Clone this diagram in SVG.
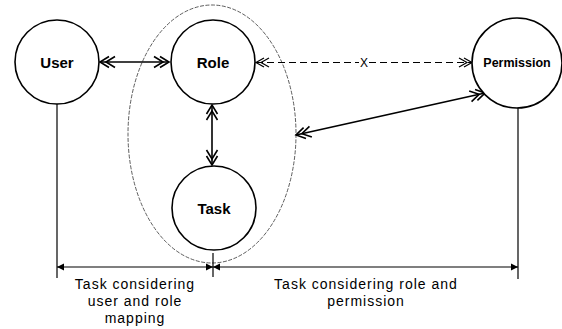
<svg xmlns="http://www.w3.org/2000/svg" width="562" height="329" viewBox="0 0 562 329">
<style>
.node{fill:#fff;stroke:#000;stroke-width:1.6}
.lbl{font-family:"Liberation Sans",Arial,sans-serif;font-weight:bold;text-anchor:middle;dominant-baseline:central;fill:#000}
.cap{font-family:"Liberation Sans",Arial,sans-serif;font-size:14px;letter-spacing:1px;text-anchor:middle;fill:#000}
.conn{fill:none;stroke:#000;stroke-width:1.6}
.dash{fill:none;stroke:#000;stroke-width:1.2;stroke-dasharray:7 4}
.thin{fill:none;stroke:#000;stroke-width:1.2}
</style>
<defs>
<marker id="dbl" markerUnits="userSpaceOnUse" markerWidth="20" markerHeight="16" viewBox="-18 -8 20 16" refX="0" refY="0" orient="auto-start-reverse">
<path d="M-9,-5.5 L0,0 L-9,5.5 M-15,-5.5 L-6,0 L-15,5.5" fill="none" stroke="#000" stroke-width="1.6"/>
</marker>
<marker id="dblt" markerUnits="userSpaceOnUse" markerWidth="20" markerHeight="16" viewBox="-18 -8 20 16" refX="0" refY="0" orient="auto-start-reverse">
<path d="M-8,-4.5 L0,0 L-8,4.5 M-13,-4.5 L-5,0 L-13,4.5" fill="none" stroke="#000" stroke-width="1.2"/>
</marker>
<marker id="tri" markerUnits="userSpaceOnUse" markerWidth="10" markerHeight="8" viewBox="-8 -4 9 8" refX="0" refY="0" orient="auto-start-reverse">
<path d="M-7,-3.5 L0,0 L-7,3.5 Z" fill="#000"/>
</marker>
</defs>
<ellipse id="grouping" cx="212" cy="134" rx="84" ry="129" fill="none" stroke="#333" stroke-width="0.8" stroke-dasharray="4 1.5"/>
<g id="connectors">
<line class="conn" x1="100" y1="62" x2="169" y2="62" marker-start="url(#dbl)" marker-end="url(#dbl)"/>
<line class="conn" x1="212" y1="105" x2="212" y2="165" marker-start="url(#dbl)" marker-end="url(#dbl)"/>
<line class="dash" x1="256" y1="62.5" x2="359" y2="62.5" marker-start="url(#dblt)"/>
<line class="dash" x1="369" y1="62.5" x2="472" y2="62.5" marker-end="url(#dblt)"/>
<text x="364" y="62.5" font-family="'Liberation Sans',Arial,sans-serif" font-size="12" text-anchor="middle" dominant-baseline="central">X</text>
<line class="conn" x1="296" y1="135" x2="485" y2="93" marker-start="url(#dbl)" marker-end="url(#dbl)"/>
<line class="thin" x1="57" y1="104" x2="57" y2="278"/>
<line class="thin" x1="518" y1="108" x2="518" y2="279"/>
<line class="thin" x1="213" y1="253" x2="213" y2="277"/>
<line class="thin" x1="57" y1="267" x2="213" y2="267" marker-start="url(#tri)" marker-end="url(#tri)"/>
<line class="thin" x1="213" y1="267" x2="518" y2="267" marker-start="url(#tri)" marker-end="url(#tri)"/>
</g>
<g id="user"><circle class="node" cx="57" cy="62" r="42"/><text class="lbl" x="57" y="62" font-size="15">User</text></g>
<g id="role"><circle class="node" cx="213" cy="62" r="42"/><text class="lbl" x="213" y="62" font-size="15">Role</text></g>
<g id="task"><circle class="node" cx="214" cy="208" r="42"/><text class="lbl" x="214" y="208" font-size="15">Task</text></g>
<g id="permission"><circle class="node" cx="517" cy="63" r="45"/><text class="lbl" x="517" y="63" font-size="12.5">Permission</text></g>
<g id="captions">
<text class="cap" x="135" y="289">Task considering</text>
<text class="cap" x="135" y="306">user and role</text>
<text class="cap" x="135" y="323">mapping</text>
<text class="cap" x="366" y="289">Task considering role and</text>
<text class="cap" x="366" y="306">permission</text>
</g>
</svg>
